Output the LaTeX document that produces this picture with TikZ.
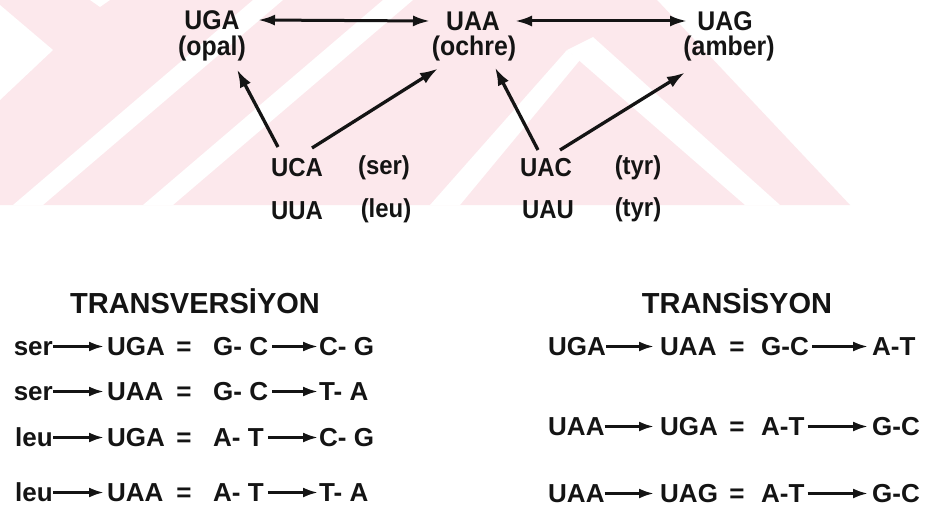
\documentclass[tikz,border=0pt]{standalone}
\usepackage{fontspec}
\setmainfont{Liberation Sans}
\usetikzlibrary{arrows.meta}
\definecolor{wm}{RGB}{252,232,236}
\definecolor{ink}{RGB}{20,20,20}
\newcommand{\toplbl}[1]{\scalebox{0.92}[1]{#1}}
\begin{document}
\begin{tikzpicture}[x=1pt,y=-1pt,
  lab/.style={inner sep=0pt, font=\bfseries\fontsize{27}{27}\selectfont, text=ink},
  mid/.style={inner sep=0pt, font=\bfseries\fontsize{26}{26}\selectfont, text=ink},
  row/.style={inner sep=0pt, font=\bfseries\fontsize{26}{26}\selectfont, text=ink},
  head/.style={inner sep=0pt, font=\bfseries\fontsize{29}{29}\selectfont, text=ink},
  dbl/.style={{Latex[length=17pt,width=11pt]}-{Latex[length=17pt,width=11pt]}, line width=3pt, draw=ink},
  up/.style={-{Latex[length=18pt,width=12pt]}, line width=3.3pt, draw=ink},
  rarr/.style={-{Latex[length=15pt,width=10pt]}, line width=2.8pt, draw=ink}]
\useasboundingbox[fill=white] (0,0) rectangle (941,508);
% watermark
\fill[wm] (0,0) -- (657,0) -- (850,205) -- (0,205) -- cycle;
\fill[white] (0,5) -- (53,50) -- (0,100) -- cycle;
\fill[white] (90,0) -- (110,0) -- (100,7) -- cycle;
\fill[white] (13,205) -- (43,205) -- (283,0) -- (253,0) -- cycle;
\fill[white] (143,205) -- (173,205) -- (413,0) -- (383,0) -- cycle;
\fill[white] (430,205) -- (460,205) -- (580,60) -- (567,50) -- cycle;
\fill[white] (567,50) -- (593,37) -- (780,205) -- (745,205) -- cycle;
% top labels
\node[lab] (uga) at (212,20) {\toplbl{UGA}};
\node[lab] (opal) at (212,48.5) {\toplbl{(opal)}};
\node[lab] (uaa) at (473,21) {\toplbl{UAA}};
\node[lab] (ochre) at (474,48.5) {\toplbl{(ochre)}};
\node[lab] (uag) at (725,21) {\toplbl{UAG}};
\node[lab] (amber) at (729,48.5) {\toplbl{(amber)}};
\node[mid] (uca) at (297,168) {\toplbl{UCA}};
\node[mid] (ser) at (384,168) {\toplbl{(ser)}};
\node[mid] (uua) at (297,211) {\toplbl{UUA}};
\node[mid] (leu) at (386,211) {\toplbl{(leu)}};
\node[mid] (uac) at (546,168) {\toplbl{UAC}};
\node[mid] (tyra) at (638,168) {\toplbl{(tyr)}};
\node[mid] (uau) at (548,210) {\toplbl{UAU}};
\node[mid] (tyrb) at (638,210) {\toplbl{(tyr)}};
\draw[dbl] ([xshift=46pt]uga.center) -- ([xshift=-43pt]uaa.center);
\draw[dbl] ([xshift=42pt]uaa.center) -- ([xshift=-38pt]uag.center);
\draw[up] ([shift={(-19,-21)}]uca.center) -- ([shift={(25,21)}]opal.center);
\draw[up] ([shift={(15,-20)}]uca.center) -- ([shift={(-36,20)}]ochre.center);
\draw[up] ([shift={(-8,-18)}]uac.center) -- ([shift={(21,19)}]ochre.center);
\draw[up] ([shift={(14,-18)}]uac.center) -- ([shift={(-44,24)}]amber.center);
% headings
\node[head, anchor=base] (h1) at (195,313) {TRANSVERSİYON};
\node[head, anchor=base] (h2) at (737,313) {TRANSİSYON};
% left rows
\foreach \n/\y/\a/\b/\c/\d in {1/355/ser/UGA/G- C/C- G, 2/400/ser/UAA/G- C/T- A, 3/446/leu/UGA/A- T/C- G, 4/501/leu/UAA/A- T/T- A}{
  \node[row, anchor=base east] (la\n) at (53,\y) {\a};
  \node[row, anchor=base west] (lb\n) at (107,\y) {\b};
  \node[row, anchor=base] (le\n) at (184,\y) {=};
  \node[row, anchor=base west] (lc\n) at (213,\y) {\c};
  \node[row, anchor=base west] (ld\n) at (319,\y) {\d};
  \draw[rarr, shorten >=3pt] ([yshift=8.5pt]la\n.base east) -- ([yshift=8.5pt]lb\n.base west);
  \draw[rarr, shorten <=4pt, shorten >=1pt] ([yshift=8.5pt]lc\n.base east) -- ([yshift=8.5pt]ld\n.base west);
}
% right rows
\foreach \n/\y/\a/\b/\c/\d in {1/355/UGA/UAA/G-C/A-T, 2/435/UAA/UGA/A-T/G-C, 3/502/UAA/UAG/A-T/G-C}{
  \node[row, anchor=base west] (ra\n) at (548,\y) {\a};
  \node[row, anchor=base west] (rb\n) at (660,\y) {\b};
  \node[row, anchor=base] (re\n) at (737,\y) {=};
  \node[row, anchor=base west] (rc\n) at (761,\y) {\c};
  \node[row, anchor=base west] (rd\n) at (872,\y) {\d};
  \draw[rarr, shorten >=6pt] ([yshift=8.5pt]ra\n.base east) -- ([yshift=8.5pt]rb\n.base west);
  \draw[rarr, shorten <=3pt, shorten >=4pt] ([yshift=8.5pt]rc\n.base east) -- ([yshift=8.5pt]rd\n.base west);
}
\end{tikzpicture}
\end{document}
